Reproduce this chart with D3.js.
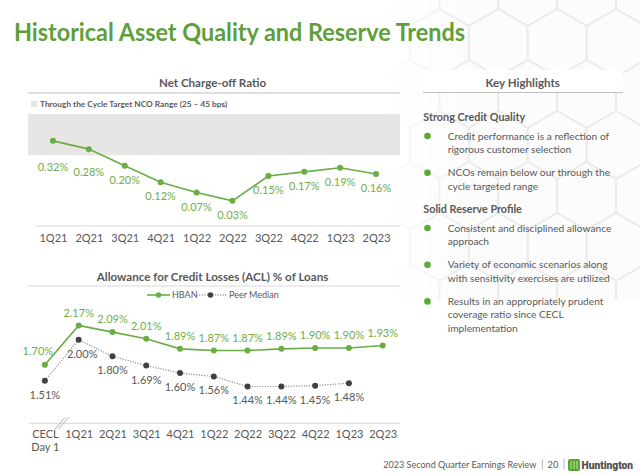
<!DOCTYPE html>
<html><head><meta charset="utf-8">
<script src="https://cdn.jsdelivr.net/npm/d3@7"></script>
<style>
body{margin:0;background:#fff;}
svg{display:block;font-family:Lato,"Open Sans",sans-serif;}
</style></head>
<body>
<script>
// ---------------- DATA ----------------
const ncoQuarters = ["1Q21","2Q21","3Q21","4Q21","1Q22","2Q22","3Q22","4Q22","1Q23","2Q23"];
const ncoValues   = [0.32,0.28,0.20,0.12,0.07,0.03,0.15,0.17,0.19,0.16];
const ncoTargetRange = [0.25, 0.45];

const aclCategories = ["CECL Day 1","1Q21","2Q21","3Q21","4Q21","1Q22","2Q22","3Q22","4Q22","1Q23","2Q23"];
const hbanValues = [1.70,2.17,2.09,2.01,1.89,1.87,1.87,1.89,1.90,1.90,1.93];
const peerValues = [1.51,2.00,1.80,1.69,1.60,1.56,1.44,1.44,1.45,1.48,null];
const seriesNames = ["HBAN","Peer Median"];

const highlightSections = [
  {heading:"Strong Credit Quality", bullets:[
    ["Credit performance is a reflection of","rigorous customer selection"],
    ["NCOs remain below our through the","cycle targeted range"]]},
  {heading:"Solid Reserve Profile", bullets:[
    ["Consistent and disciplined allowance","approach"],
    ["Variety of economic scenarios along","with sensitivity exercises are utilized"],
    ["Results in an appropriately prudent","coverage ratio since CECL","implementation"]]}
];

// ---------------- STYLE ----------------
const W = 640, H = 475;
const GREEN_TITLE = "#5e9f3b", GREEN_LINE = "#6aad45", GREEN_LABEL = "#70ad47";
const GRAY_TEXT = "#595959", DARK = "#404040";

const svg = d3.select("body").append("svg").attr("width", W).attr("height", H);
const defs = svg.append("defs");

// faint hexagon background on the right
const grad = defs.append("linearGradient").attr("id","fade").attr("x1","0").attr("x2","1").attr("y1","0").attr("y2","0");
grad.append("stop").attr("offset","0").attr("stop-color","#fff").attr("stop-opacity",0);
grad.append("stop").attr("offset","0.35").attr("stop-color","#fff").attr("stop-opacity",1);
const mask = defs.append("mask").attr("id","hexmask");
mask.append("rect").attr("x",380).attr("y",0).attr("width",260).attr("height",300).attr("fill","url(#fade)");
const hexG = svg.append("g").attr("mask","url(#hexmask)");
const hs = 34, hw = hs*Math.sqrt(3)/2;
for (let r = -1; r < 7; r++) {
  for (let c = 0; c < 8; c++) {
    const cx = 410 + c*2*hw + (r%2 ? hw : 0), cy = -8 + r*1.5*hs;
    const pts = d3.range(6).map(k => { const a = Math.PI/180*(60*k-90); return [cx + hs*Math.cos(a), cy + hs*Math.sin(a)]; });
    hexG.append("polygon").attr("points", pts.map(p=>p.join(",")).join(" "))
      .attr("fill","#fcfcfc").attr("stroke","#ebebeb").attr("stroke-width",2);
  }
}

// Main title
svg.append("text").attr("x",14).attr("y",40.5).attr("fill",GREEN_TITLE)
  .attr("font-size",24.5).attr("font-weight",700)
  .attr("textLength",451).attr("lengthAdjust","spacingAndGlyphs")
  .text("Historical Asset Quality and Reserve Trends");

// ---------------- NET CHARGE-OFF CHART ----------------
const ncoG = svg.append("g");
ncoG.append("text").attr("x",212.5).attr("y",87.3).attr("text-anchor","middle")
  .attr("font-size",11.6).attr("font-weight",700).attr("fill",GRAY_TEXT).text("Net Charge-off Ratio");
ncoG.append("line").attr("x1",28).attr("x2",400).attr("y1",93).attr("y2",93).attr("stroke","#bfbfbf").attr("stroke-width",1);
ncoG.append("rect").attr("x",31).attr("y",101).attr("width",6).attr("height",6).attr("fill","#e7e6e4");
ncoG.append("text").attr("x",40).attr("y",107.2).attr("font-size",8.3).attr("font-weight",700).attr("fill",GRAY_TEXT)
  .text("Through the Cycle Target NCO Range (25 \u2013 45 bps)");

const xN = d3.scalePoint().domain(ncoQuarters).range([35,394]).padding(0.5);
const yN = d3.scaleLinear().domain([0,0.45]).range([207,114]);

ncoG.append("rect").attr("x",28).attr("width",372)
  .attr("y",yN(ncoTargetRange[1])).attr("height",yN(ncoTargetRange[0])-yN(ncoTargetRange[1]))
  .attr("fill","#e7e6e4");

ncoG.append("line").attr("x1",35).attr("x2",400).attr("y1",226).attr("y2",226).attr("stroke","#d9d9d9");
const axN = ncoG.append("g").attr("transform","translate(0,226)")
  .call(d3.axisBottom(xN).tickSize(0).tickPadding(8));
axN.select(".domain").remove();
axN.selectAll("text").attr("font-size",11).attr("fill",GRAY_TEXT).attr("font-family","Lato");

ncoG.append("path").datum(ncoValues)
  .attr("d", d3.line().x((d,i)=>xN(ncoQuarters[i])).y(d=>yN(d)))
  .attr("fill","none").attr("stroke",GREEN_LINE).attr("stroke-width",1.6);
ncoG.selectAll(".ncoPt").data(ncoValues).enter().append("circle")
  .attr("cx",(d,i)=>xN(ncoQuarters[i])).attr("cy",d=>yN(d)).attr("r",3).attr("fill",GREEN_LINE);
// labels below points; those inside the shaded band are pushed below it
const bandBottom = yN(ncoTargetRange[0]);
ncoG.selectAll(".ncoLbl").data(ncoValues).enter().append("text")
  .attr("x",(d,i)=>xN(ncoQuarters[i]))
  .attr("y",(d)=> { const py = yN(d); const c = py < bandBottom ? Math.max(py+23, bandBottom+12) : py+14; return c+4; })
  .attr("text-anchor","middle").attr("font-size",11).attr("fill",GREEN_LABEL)
  .text(d=>d.toFixed(2)+"%");

// ---------------- ACL CHART ----------------
const aclG = svg.append("g");
aclG.append("text").attr("x",212.5).attr("y",280.8).attr("text-anchor","middle")
  .attr("font-size",11.6).attr("font-weight",700).attr("fill",GRAY_TEXT).text("Allowance for Credit Losses (ACL) % of Loans");
aclG.append("line").attr("x1",28).attr("x2",400).attr("y1",286).attr("y2",286).attr("stroke","#d9d9d9");

const xA = d3.scalePoint().domain(aclCategories).range([28,399.6]).padding(0.5);
const yA = d3.scaleLinear().domain([1.0,2.5]).range([423.3,297.8]);

// legend
const lg = aclG.append("g");
lg.append("line").attr("x1",147).attr("x2",170).attr("y1",295).attr("y2",295).attr("stroke",GREEN_LINE).attr("stroke-width",1.6);
lg.append("circle").attr("cx",158.5).attr("cy",295).attr("r",2.8).attr("fill",GREEN_LINE);
lg.append("text").attr("x",172).attr("y",298.2).attr("font-size",9).attr("fill",GRAY_TEXT).text(seriesNames[0]);
lg.append("line").attr("x1",194).attr("x2",227).attr("y1",295).attr("y2",295).attr("stroke","#595959").attr("stroke-width",1.2).attr("stroke-dasharray","1,1.6");
lg.append("circle").attr("cx",210.5).attr("cy",295).attr("r",2.8).attr("fill",DARK);
lg.append("text").attr("x",229).attr("y",298.2).attr("font-size",9).attr("fill",GRAY_TEXT).text(seriesNames[1]);

aclG.append("line").attr("x1",29).attr("x2",400).attr("y1",423.3).attr("y2",423.3).attr("stroke","#d9d9d9");
const axA = aclG.append("g").attr("transform","translate(0,423.3)")
  .call(d3.axisBottom(xA).tickSize(0).tickPadding(7));
axA.select(".domain").remove();
axA.selectAll("text").attr("font-size",11).attr("fill",GRAY_TEXT).attr("font-family","Lato")
  .each(function(d){
    const words = d.split(" ");
    if (words.length > 2) {
      const t = d3.select(this).text(null);
      t.append("tspan").attr("x",0).text(words[0]);
      t.append("tspan").attr("x",0).attr("dy","1.15em").text(words.slice(1).join(" "));
    }
  });
// axis break marks between CECL Day 1 and 1Q21
const bx = (xA(aclCategories[0]) + xA(aclCategories[1]))/2;
[-1.7,1.7].forEach(o => aclG.append("line")
  .attr("x1",bx+o-5).attr("y1",429).attr("x2",bx+o+5).attr("y2",417.5)
  .attr("stroke","#a6a6a6").attr("stroke-width",0.9));

const peerPts = peerValues.map((v,i)=>({v,i})).filter(d=>d.v!=null);
aclG.append("path").datum(peerPts)
  .attr("d", d3.line().x(d=>xA(aclCategories[d.i])).y(d=>yA(d.v)))
  .attr("fill","none").attr("stroke","#7f7f7f").attr("stroke-width",1.2).attr("stroke-dasharray","1,1.6");
aclG.append("path").datum(hbanValues)
  .attr("d", d3.line().x((d,i)=>xA(aclCategories[i])).y(d=>yA(d)))
  .attr("fill","none").attr("stroke",GREEN_LINE).attr("stroke-width",1.6);
aclG.selectAll(".pp").data(peerPts).enter().append("circle")
  .attr("cx",d=>xA(aclCategories[d.i])).attr("cy",d=>yA(d.v)).attr("r",3).attr("fill",DARK);
aclG.selectAll(".hp").data(hbanValues).enter().append("circle")
  .attr("cx",(d,i)=>xA(aclCategories[i])).attr("cy",d=>yA(d)).attr("r",3).attr("fill",GREEN_LINE);

aclG.selectAll(".hl").data(hbanValues).enter().append("text")
  .attr("x",(d,i)=>xA(aclCategories[i]) + (i===0 ? -7 : 0))
  .attr("y",(d,i)=>yA(d) - (i===0 ? 10 : 8.7))
  .attr("text-anchor","middle").attr("font-size",11).attr("fill",GREEN_LABEL).text(d=>d.toFixed(2)+"%");
aclG.selectAll(".pl").data(peerPts).enter().append("text")
  .attr("x",d=>xA(aclCategories[d.i]) + (d.i===1 ? 3.5 : 0))
  .attr("y",d=>yA(d.v) + 18)
  .attr("text-anchor","middle").attr("font-size",11).attr("fill",GRAY_TEXT).text(d=>d.v.toFixed(2)+"%");

// ---------------- KEY HIGHLIGHTS ----------------
const kh = svg.append("g");
kh.append("rect").attr("x",423).attr("y",70).attr("width",200).attr("height",22).attr("fill","#fff");
kh.append("text").attr("x",522.7).attr("y",87.3).attr("text-anchor","middle")
  .attr("font-size",11.6).attr("font-weight",700).attr("fill",GRAY_TEXT).text("Key Highlights");
kh.append("line").attr("x1",423).attr("x2",623).attr("y1",92.5).attr("y2",92.5).attr("stroke","#bfbfbf");

let yc = 117.3;
const LH = 13.3;
highlightSections.forEach((sec, si) => {
  if (si > 0) yc += 23.3;
  kh.append("text").attr("x",423.3).attr("y",yc+3.8).attr("font-size",10.8).attr("font-weight",700)
    .attr("fill",GRAY_TEXT).text(sec.heading);
  yc += 18.7;
  sec.bullets.forEach((lines, bi) => {
    if (bi > 0) yc += 23.4;
    kh.append("circle").attr("cx",427.5).attr("cy",yc).attr("r",3.3).attr("fill","#57ad32");
    lines.forEach((ln, li) => {
      if (li > 0) yc += LH;
      kh.append("text").attr("x",447.7).attr("y",yc+3.7).attr("font-size",10.2).attr("fill",GRAY_TEXT).text(ln);
    });
  });
});

// ---------------- FOOTER ----------------
const ft = svg.append("g");
ft.append("text").attr("x",383.3).attr("y",468.3).attr("font-size",9.3).attr("fill",GRAY_TEXT)
  .attr("textLength",153).attr("lengthAdjust","spacingAndGlyphs")
  .text("2023 Second Quarter Earnings Review");
ft.append("line").attr("x1",542.3).attr("x2",542.3).attr("y1",459).attr("y2",470).attr("stroke","#a6a6a6").attr("stroke-width",0.8);
ft.append("text").attr("x",553).attr("y",468.3).attr("text-anchor","middle").attr("font-size",9.3).attr("fill",GRAY_TEXT).text("20");
ft.append("line").attr("x1",564).attr("x2",564).attr("y1",459).attr("y2",470).attr("stroke","#a6a6a6").attr("stroke-width",0.8);
const logo = ft.append("g").attr("transform","translate(568,459)");
logo.append("rect").attr("x",0).attr("y",0).attr("width",12).attr("height",12).attr("rx",2).attr("fill","#58a630");
[3,6,9].forEach(x => logo.append("line").attr("x1",x).attr("x2",x).attr("y1",2).attr("y2",10).attr("stroke","#d8efcb").attr("stroke-width",0.8));
ft.append("text").attr("x",581.5).attr("y",469.3).attr("font-size",10.2).attr("font-weight",900)
  .attr("font-family","Roboto,sans-serif").attr("fill","#4d4d4d")
  .attr("textLength",51.5).attr("lengthAdjust","spacingAndGlyphs").text("Huntington");
</script>
</body></html>
